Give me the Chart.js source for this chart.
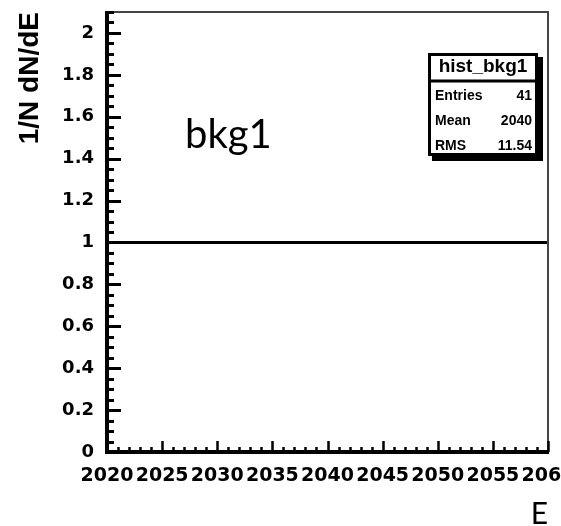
<!DOCTYPE html>
<html>
<head>
<meta charset="utf-8">
<script src="https://cdn.jsdelivr.net/npm/chart.js@4"></script>
<style>
  html, body { margin: 0; padding: 0; background: #fff; overflow: hidden; }
</style>
</head>
<body>
<canvas id="histChart" width="561" height="526"></canvas>
<script>
// === DATA ===
const energy = [2020, 2060];
const density = [1, 1];
const xTickValues = [2020, 2025, 2030, 2035, 2040, 2045, 2050, 2055, 2060];
const yTickValues = [0, 0.2, 0.4, 0.6, 0.8, 1, 1.2, 1.4, 1.6, 1.8, 2];
const statsTitle = 'hist_bkg1';
const statsLabels = ['Entries', 'Mean', 'RMS'];
const statsValues = ['41', '2040', '11.54'];
const histLabel = 'bkg1';

// === FRAME, INWARD TICKS, STAT BOX ===
const rootStyle = {
  id: 'rootStyle',
  afterDraw(chart) {
    const ctx = chart.ctx;
    const { left, right, top, bottom } = chart.chartArea;
    const xs = chart.scales.x, ys = chart.scales.y;
    const line = (x1, y1, x2, y2) => { ctx.beginPath(); ctx.moveTo(x1, y1); ctx.lineTo(x2, y2); ctx.stroke(); };
    ctx.save();

    // top / right frame
    ctx.strokeStyle = '#444';
    ctx.lineWidth = 2;
    line(left, top, right + 1, top);
    line(right, top, right, bottom);

    // y ticks (major every 0.2, minor every 0.05)
    ctx.strokeStyle = '#000';
    ctx.lineWidth = 3;
    for (let k = 0; k <= 42; k++) {
      const y = Math.round(ys.getPixelForValue(k * 0.05)) + 0.5;
      line(left, y, left + (k % 4 === 0 ? 14 : 7), y);
    }
    // x ticks (major every 5, minor every 1)
    ctx.lineWidth = 2.5;
    for (let k = 0; k <= 40; k++) {
      const x = Math.round(xs.getPixelForValue(2020 + k)) + 0.5;
      line(x, bottom, x, bottom - (k % 5 === 0 ? 11 : 5));
    }
    // left / bottom axis
    ctx.lineWidth = 4;
    line(left, top - 1, left, bottom + 2);
    line(left - 2, bottom, right + 1, bottom);

    // stat box
    ctx.fillStyle = '#000';
    ctx.fillRect(432, 57, 111, 104);
    ctx.fillStyle = '#fff';
    ctx.fillRect(429, 54, 108, 101);
    ctx.lineWidth = 3;
    ctx.strokeRect(429.5, 54.5, 107, 100);
    line(429, 81, 537, 81);
    ctx.fillStyle = '#000';
    ctx.textBaseline = 'middle';
    ctx.font = 'bold 19px "Liberation Sans"';
    ctx.textAlign = 'center';
    ctx.fillText(statsTitle, 483, 67);
    ctx.font = 'bold 14px "Liberation Sans"';
    statsLabels.forEach((lab, i) => {
      ctx.textAlign = 'left';
      ctx.fillText(lab, 435, 96 + i * 25);
      ctx.textAlign = 'right';
      ctx.fillText(statsValues[i], 532, 96 + i * 25);
    });

    // histogram label
    ctx.font = '40px Lato';
    ctx.textAlign = 'left';
    ctx.textBaseline = 'alphabetic';
    ctx.fillText(histLabel, 185, 148);
    ctx.restore();
  }
};

// === CHART ===
const ctx = document.getElementById('histChart').getContext('2d');
new Chart(ctx, {
  type: 'line',
  data: {
    datasets: [{
      data: energy.map((x, i) => ({ x, y: density[i] })),
      borderColor: '#000',
      borderWidth: 3,
      pointRadius: 0,
      fill: false,
      tension: 0
    }]
  },
  options: {
    responsive: false,
    animation: false,
    devicePixelRatio: 1,
    layout: { padding: { left: 0, right: 13, top: 12, bottom: 0 } },
    plugins: { legend: { display: false }, tooltip: { enabled: false } },
    scales: {
      x: {
        type: 'linear',
        min: 2020,
        max: 2060,
        grid: { display: false, drawTicks: false },
        border: { display: false },
        afterBuildTicks: s => { s.ticks = xTickValues.map(v => ({ value: v })); },
        afterFit: s => { s.height = 74; s.paddingLeft = 0; s.paddingRight = 0; },
        ticks: {
          autoSkip: false, maxRotation: 0, minRotation: 0, padding: 13, color: '#000',
          font: { family: 'DejaVu Sans', weight: 'bold', size: 19 },
          callback: v => String(v)
        },
        title: {
          display: true, text: 'E', align: 'end', color: '#000',
          font: { family: 'Lato', size: 30, lineHeight: 1 },
          padding: { top: 0, bottom: -3 }
        }
      },
      y: {
        min: 0,
        max: 2.1,
        grid: { display: false, drawTicks: false },
        border: { display: false },
        afterBuildTicks: s => { s.ticks = yTickValues.map(v => ({ value: v })); },
        afterFit: s => { s.width = 107; s.paddingTop = 0; s.paddingBottom = 0; },
        ticks: {
          padding: 13, color: '#000',
          font: { family: 'DejaVu Sans', weight: 'bold', size: 18 },
          callback: v => String(+v.toFixed(1))
        },
        title: {
          display: true, text: '1/N dN/dE', align: 'end', color: '#000',
          font: { family: 'Liberation Sans', weight: 'bold', size: 28, lineHeight: 1.2 },
          padding: { top: 13, bottom: 0 }
        }
      }
    }
  },
  plugins: [rootStyle]
});
</script>
</body>
</html>
